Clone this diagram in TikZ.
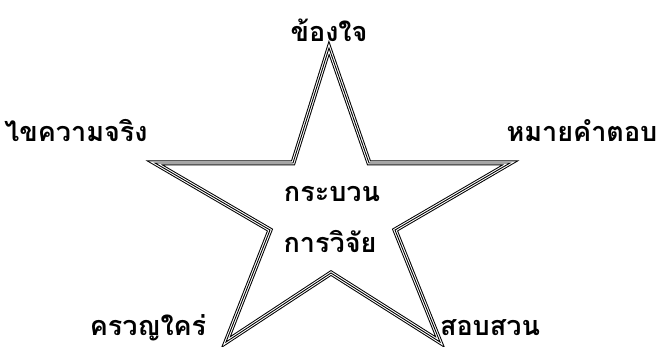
\documentclass[tikz,border=0pt]{standalone}
\usepackage{fontspec}
\newfontfamily\thaifont[Script=Thai]{Loma}
\usepackage{tikz}
\tikzset{
    starline/.style={line width=5pt, line join=miter, miter limit=20},
    thailabel/.style={font=\thaifont\bfseries\fontsize{27}{30}\selectfont, inner sep=0pt, anchor=base}
}

\begin{document}
\begin{tikzpicture}[x=1pt, y=-1pt]
            \useasboundingbox (0,0) rectangle (658,347);

            % outer tips
            \coordinate (top) at (329,48);
            \coordinate (rtip) at (510,163);
            \coordinate (brtip) at (440,342);
            \coordinate (bltip) at (226,342);
            \coordinate (ltip) at (155,163);

            % inner corners
            \coordinate (iur) at (369,163);
            \coordinate (ir) at (395,230);
            \coordinate (ib) at (331,273);
            \coordinate (il) at (270,230);
            \coordinate (iul) at (293,163);

            % star, drawn three times for the triple line
            \foreach \c/\w in {black/5pt, white/3pt, black/0.9pt}
                \draw[starline, draw=\c, line width=\w] (top) -- (iur) -- (rtip) -- (ir) -- (brtip)
                    -- (ib) -- (bltip) -- (il) -- (ltip) -- (iul) -- cycle;

            % labels
            \node[thailabel] (khongchai) at (329,42) {ข้องใจ};
            \node[thailabel] (khai) at (76,142) {ไขความจริง};
            \node[thailabel] (maai) at (582,142) {หมายคำตอบ};
            \node[thailabel] (khruan) at (148,335) {ครวญใคร่};
            \node[thailabel] (sop) at (490,335) {สอบสวน};
            \node[thailabel] (krabuan) at (332,202) {กระบวน};
            \node[thailabel] (wijai) at (330,253) {การวิจัย};
        \end{tikzpicture}
\end{document}
